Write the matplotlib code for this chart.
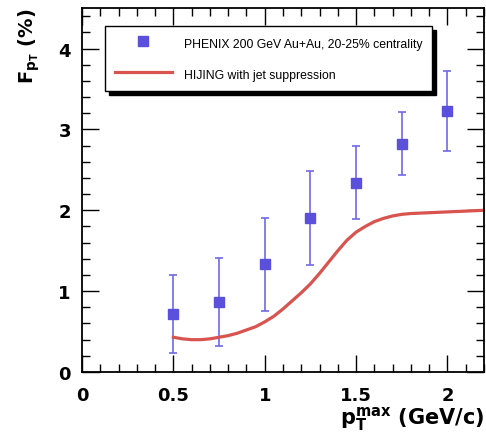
import matplotlib
matplotlib.use("Agg")
from matplotlib import pyplot as plt
from matplotlib.ticker import MultipleLocator

# PHENIX data points
pt_data = [0.5, 0.75, 1.0, 1.25, 1.5, 1.75, 2.0]
f_data = [0.72, 0.87, 1.34, 1.90, 2.34, 2.82, 3.23]
err_lo = [0.49, 0.55, 0.58, 0.58, 0.45, 0.38, 0.50]
err_hi = [0.48, 0.54, 0.57, 0.58, 0.45, 0.39, 0.49]

# HIJING curve
pt_hijing = [0.50, 0.55, 0.60, 0.65, 0.70, 0.75, 0.80, 0.85, 0.90, 0.95,
             1.00, 1.05, 1.10, 1.15, 1.20, 1.25, 1.30, 1.35, 1.40, 1.45,
             1.50, 1.55, 1.60, 1.65, 1.70, 1.75, 1.80, 1.90, 2.00, 2.10, 2.20]
f_hijing = [0.43, 0.41, 0.40, 0.40, 0.41, 0.43, 0.45, 0.48, 0.52, 0.56,
            0.62, 0.69, 0.78, 0.88, 0.98, 1.09, 1.22, 1.36, 1.50, 1.63,
            1.73, 1.80, 1.86, 1.90, 1.93, 1.95, 1.96, 1.97, 1.98, 1.99, 2.00]

plt.rcParams['font.family'] = ['DejaVu Sans']
plt.rcParams['mathtext.fontset'] = 'dejavusans'

fig = plt.figure(figsize=(4.86, 4.35), dpi=100)
ax = fig.add_axes([0.1687, 0.1425, 0.8272, 0.8365])

ax.errorbar(pt_data, f_data, yerr=[err_lo, err_hi], fmt='none',
            ecolor='#6e6ae6', elinewidth=1.2, capsize=3, capthick=1.2)
ax.plot(pt_data, f_data, 's', color='#5a50dc', markersize=7.5,
        label='PHENIX 200 GeV Au+Au, 20-25% centrality')
ax.plot(pt_hijing, f_hijing, '-', color='#d9534f', linewidth=2.3,
        label='HIJING with jet suppression')

ax.set_xlim(0, 2.2)
ax.set_ylim(0, 4.5)
ax.xaxis.set_major_locator(MultipleLocator(0.5))
ax.xaxis.set_minor_locator(MultipleLocator(0.1))
ax.yaxis.set_major_locator(MultipleLocator(1))
ax.yaxis.set_minor_locator(MultipleLocator(0.2))
ax.set_xticks([0, 0.5, 1, 1.5, 2], ['0', '0.5', '1', '1.5', '2'])
ax.tick_params(which='both', direction='in', top=True, right=True,
               width=1.0, labelsize=13)
ax.tick_params(axis='x', pad=10)
ax.tick_params(axis='y', pad=8)
ax.tick_params(which='major', length=12)
ax.tick_params(which='minor', length=6)
for lab in ax.get_xticklabels() + ax.get_yticklabels():
    lab.set_fontweight('bold')
for sp in ax.spines.values():
    sp.set_linewidth(1.3)

ax.set_xlabel(r'$\mathbf{p}_{\mathbf{T}}^{\mathbf{max}}$ (GeV/c)',
              fontsize=15, fontweight='bold', loc='right', labelpad=0)
ax.set_ylabel(r'$\mathbf{F}_{\mathbf{p}_{\mathbf{T}}}$ (%)',
              fontsize=14, fontweight='bold', loc='top')
ax.yaxis.set_label_coords(-0.10, 1.0)

leg = ax.legend(loc='upper left', bbox_to_anchor=(0.057, 0.952),
                prop={'family': 'Liberation Sans', 'size': 8.8},
                frameon=True, fancybox=False,
                shadow={'color': 'black', 'alpha': 1, 'ox': 3, 'oy': -3},
                handlelength=4.7, handleheight=1.6, handletextpad=0.96,
                labelspacing=1.2, borderpad=0.8, borderaxespad=0,
                framealpha=1)
leg.get_frame().set_edgecolor('black')
leg.get_frame().set_linewidth(1.0)

fig.savefig('out.png', dpi=100)
